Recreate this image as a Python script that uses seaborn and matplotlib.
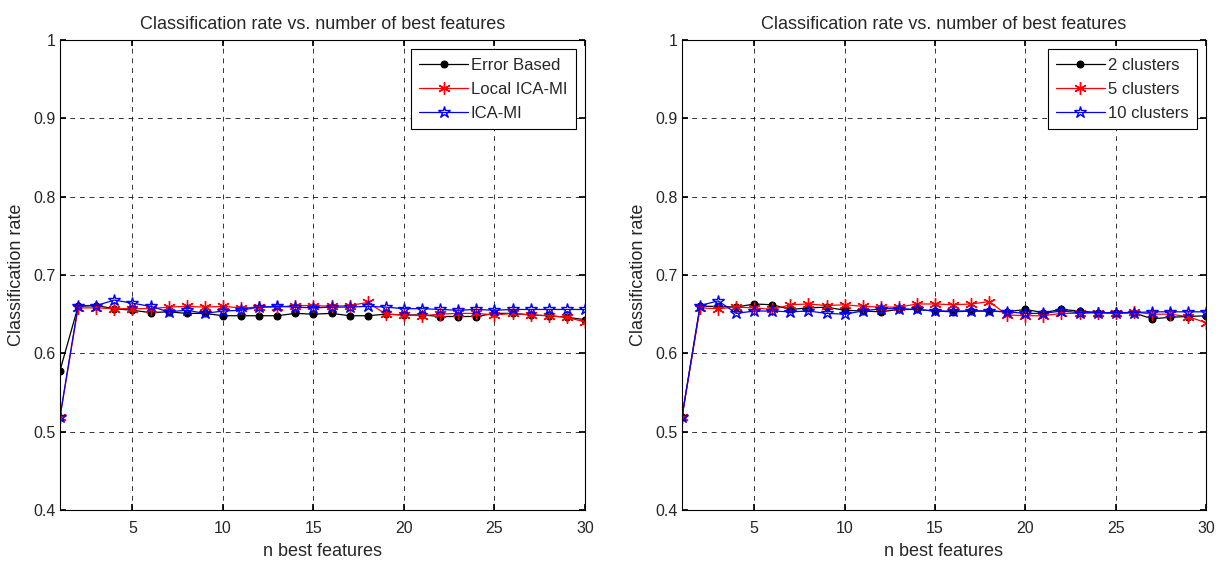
import numpy as np
import pandas as pd
import matplotlib
matplotlib.use("Agg")
import matplotlib.pyplot as plt
import seaborn as sns

n_features = list(range(1, 31))

# Left panel
error_based = [0.578, 0.660, 0.661, 0.657, 0.655, 0.652, 0.653, 0.651, 0.651, 0.648,
               0.648, 0.648, 0.648, 0.651, 0.650, 0.651, 0.648, 0.648, 0.650, 0.649,
               0.649, 0.647, 0.647, 0.647, 0.651, 0.651, 0.649, 0.648, 0.646, 0.643]
local_ica_mi = [0.519, 0.658, 0.658, 0.657, 0.657, 0.657, 0.659, 0.660, 0.659, 0.660,
                0.658, 0.659, 0.659, 0.661, 0.661, 0.660, 0.661, 0.665, 0.650, 0.649,
                0.648, 0.650, 0.651, 0.651, 0.649, 0.651, 0.649, 0.648, 0.646, 0.640]
ica_mi = [0.519, 0.661, 0.661, 0.668, 0.664, 0.660, 0.653, 0.655, 0.651, 0.654,
          0.655, 0.659, 0.660, 0.659, 0.658, 0.659, 0.659, 0.660, 0.659, 0.657,
          0.657, 0.656, 0.655, 0.656, 0.655, 0.656, 0.656, 0.656, 0.656, 0.656]

# Right panel
clusters_2 = [0.519, 0.660, 0.660, 0.659, 0.663, 0.662, 0.656, 0.658, 0.659, 0.655,
              0.654, 0.653, 0.656, 0.656, 0.654, 0.653, 0.654, 0.654, 0.653, 0.656,
              0.652, 0.656, 0.654, 0.652, 0.651, 0.652, 0.644, 0.646, 0.647, 0.648]
clusters_5 = [0.519, 0.658, 0.657, 0.659, 0.658, 0.656, 0.662, 0.663, 0.661, 0.662,
              0.660, 0.659, 0.659, 0.663, 0.663, 0.662, 0.663, 0.666, 0.649, 0.648,
              0.648, 0.651, 0.651, 0.652, 0.651, 0.653, 0.650, 0.650, 0.647, 0.639]
clusters_10 = [0.519, 0.661, 0.667, 0.651, 0.654, 0.654, 0.653, 0.654, 0.651, 0.650,
               0.654, 0.657, 0.657, 0.656, 0.654, 0.654, 0.654, 0.654, 0.653, 0.651,
               0.651, 0.654, 0.652, 0.652, 0.652, 0.652, 0.653, 0.653, 0.653, 0.653]

left_labels = ["Error Based", "Local ICA-MI", "ICA-MI"]
right_labels = ["2 clusters", "5 clusters", "10 clusters"]
title = "Classification rate vs. number of best features"
xticks = [5, 10, 15, 20, 25, 30]
yticks = [0.4, 0.5, 0.6, 0.7, 0.8, 0.9, 1.0]
ytick_labels = ["0.4", "0.5", "0.6", "0.7", "0.8", "0.9", "1"]

sns.set_theme(style="white")
plt.rcParams['font.family'] = ['Liberation Sans', 'DejaVu Sans']

fig = plt.figure(figsize=(12.29, 5.61), dpi=100)
ax1 = fig.add_axes([60/1229, 51/561, 525/1229, 470/561])
ax2 = fig.add_axes([682/1229, 51/561, 524/1229, 470/561])

styles = [
    dict(color="black", marker="o", markersize=5, markerfacecolor="black", markeredgecolor="black"),
    dict(color="red", marker=(6, 2, 0), markersize=9, markeredgecolor="red", markeredgewidth=1.0),
    dict(color="blue", marker="*", markersize=9, markerfacecolor="none", markeredgecolor="blue", markeredgewidth=1.0),
]

def panel(ax, series, labels):
    for s, lab, st in zip(series, labels, styles):
        df = pd.DataFrame({"x": n_features, "y": s})
        sns.lineplot(data=df, x="x", y="y", ax=ax, label=lab, linewidth=0.9, **st)
    ax.set_xlim(1, 30)
    ax.set_ylim(0.4, 1.0)
    ax.set_xticks(xticks)
    ax.set_xticklabels([str(t) for t in xticks])
    ax.set_yticks(yticks)
    ax.set_yticklabels(ytick_labels)
    ax.grid(True, color="black", linestyle=(0, (5, 5)), linewidth=0.7, alpha=0.8)
    ax.tick_params(direction="in", length=4, color="black", top=True, right=True,
                   bottom=True, left=True, labelsize=11.5)
    ax.tick_params(axis="x", pad=8)
    ax.tick_params(axis="y", pad=3)
    for sp in ax.spines.values():
        sp.set_color("black")
        sp.set_linewidth(0.8)
    ax.set_xlabel("n best features", fontsize=13, labelpad=5)
    ax.set_ylabel("Classification rate", fontsize=13, labelpad=6)
    ax.set_title(title, fontsize=13, pad=8)
    leg = ax.legend(loc="upper right", fontsize=12, frameon=True, fancybox=False,
                    edgecolor="black", framealpha=1, borderaxespad=0.55,
                    handlelength=2.9, handletextpad=0.2, labelspacing=0.55,
                    borderpad=0.5)
    leg.get_frame().set_linewidth(0.8)

panel(ax1, [error_based, local_ica_mi, ica_mi], left_labels)
panel(ax2, [clusters_2, clusters_5, clusters_10], right_labels)

fig.savefig("out.png", dpi=100)
